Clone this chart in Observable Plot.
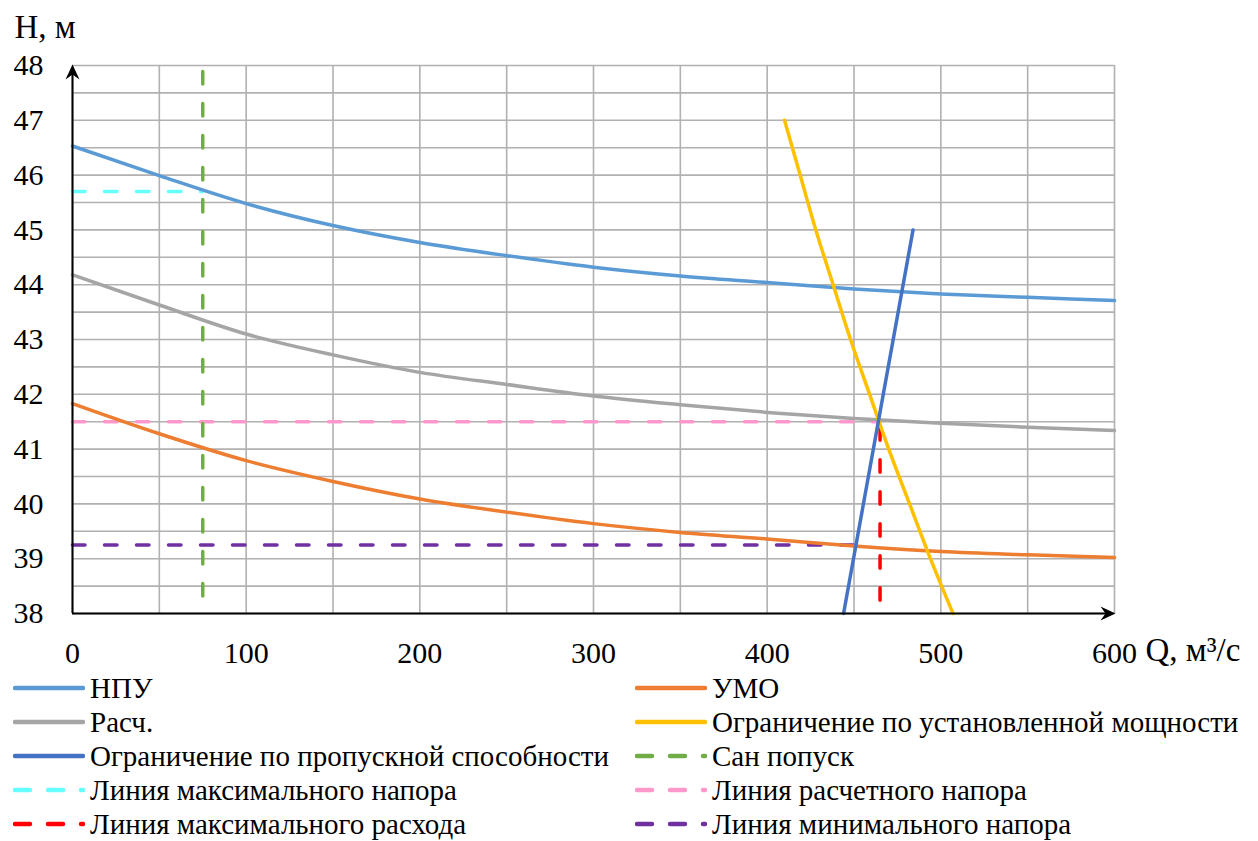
<!DOCTYPE html>
<html>
<head>
<meta charset="utf-8">
<script src="https://cdn.jsdelivr.net/npm/d3@7"></script>
<script src="https://cdn.jsdelivr.net/npm/@observablehq/plot@0.6"></script>
<style>
  html, body { margin: 0; padding: 0; background: #fff; }
  body { width: 1258px; height: 841px; overflow: hidden; font-family: "Liberation Serif", "Times New Roman", serif; }
  svg text { font-family: "Liberation Serif", "Times New Roman", serif !important; }
  #legend { position: relative; width: 1258px; }
  .row { position: absolute; height: 34px; display: flex; align-items: center; font-size: 29px; color: #000; white-space: nowrap; font-family: "Liberation Serif", "Times New Roman", serif; }
  .row svg { margin-right: 5px; }
</style>
</head>
<body>
<div id="chart"></div>
<div id="legend"></div>
<script>
// Расход Q, м³/с — общие узлы для кривых напора
const qNodes = [0, 50, 100, 150, 200, 250, 300, 350, 400, 450, 500, 550, 600];
// Напор при НПУ, м
const hNPU = [46.53, 45.99, 45.48, 45.08, 44.77, 44.53, 44.32, 44.16, 44.04, 43.92, 43.83, 43.77, 43.71];
// Расчётный напор, м
const hRasch = [44.18, 43.63, 43.1, 42.72, 42.4, 42.18, 41.97, 41.81, 41.67, 41.56, 41.47, 41.4, 41.34];
// Напор при УМО, м
const hUMO = [41.83, 41.28, 40.79, 40.41, 40.09, 39.85, 39.64, 39.48, 39.36, 39.23, 39.13, 39.07, 39.02];

// Ограничение по установленной мощности (Q, H)
const powerQ = [410, 419, 428, 438, 448, 459, 470, 482, 494, 507];
const powerH = [47, 46, 45, 44, 43, 42, 41, 40, 39, 38];

// Ограничение по пропускной способности (Q, H)
const capacityQ = [444, 484];
const capacityH = [38, 45];

// Характерные значения
const qSan = 75;        // санитарный попуск
const hMax = 45.7;      // максимальный напор
const hCalc = 41.5;     // расчётный напор
const qMax = 465;       // максимальный расход
const hMin = 39.25;     // минимальный напор
const qMinEnd = 452;    // конец линии минимального напора

// Оси
const xTicks = [0, 100, 200, 300, 400, 500, 600];
const yTicks = [38, 39, 40, 41, 42, 43, 44, 45, 46, 47, 48];
const xGrid = d3.range(0, 601, 50);
const yGrid = d3.range(38, 48.01, 0.5);

const colors = {
  npu: "#5b9bd5", umo: "#ed7d31", rasch: "#a5a5a5", power: "#ffc000",
  capacity: "#4472c4", san: "#70ad47", hmax: "#66ffff", hcalc: "#ff99cc",
  qmax: "#ff0000", hmin: "#7030a0"
};

const curve = (hs) => qNodes.map((q, i) => ({q, h: hs[i]}));
const pairs = (qs, hs) => qs.map((q, i) => ({q, h: hs[i]}));

const lw = 3.5;
const dash = "12.5,19.5";

// Наконечники стрелок осей
const arrowUp = { draw(ctx) { ctx.moveTo(0, -1); ctx.lineTo(-7, 14); ctx.lineTo(0, 9); ctx.lineTo(7, 14); ctx.closePath(); } };
const arrowRight = { draw(ctx) { ctx.moveTo(1, 0); ctx.lineTo(-14, -7); ctx.lineTo(-9, 0); ctx.lineTo(-14, 7); ctx.closePath(); } };

const plot = Plot.plot({
  width: 1258,
  height: 670,
  marginLeft: 72,
  marginRight: 144,
  marginTop: 65,
  marginBottom: 57,
  style: { fontFamily: "'Liberation Serif', 'Times New Roman', serif", fontSize: "30px", color: "#000", background: "#fff" },
  x: { domain: [0, 600] },
  y: { domain: [38, 48] },
  marks: [
    Plot.ruleX(xGrid, { stroke: "#b2b0b0", strokeWidth: 1.6 }),
    Plot.ruleY(yGrid, { stroke: "#b2b0b0", strokeWidth: 1.6 }),
    Plot.axisX(xTicks, { tickSize: 0, tickPadding: 28, fontSize: 30, label: null, tickFormat: d => String(d) }),
    Plot.axisY(yTicks, { tickSize: 0, tickPadding: 29, fontSize: 30, label: null, tickFormat: d => String(d) }),

    // Горизонтальные и вертикальные характерные линии
    Plot.lineY([{q: 0, h: hMin}, {q: qMinEnd, h: hMin}], { x: "q", y: "h", stroke: colors.hmin, strokeWidth: lw, strokeDasharray: dash, strokeLinecap: "round" }),
    Plot.lineY([{q: 0, h: hCalc}, {q: qMax, h: hCalc}], { x: "q", y: "h", stroke: colors.hcalc, strokeWidth: lw, strokeDasharray: dash, strokeLinecap: "round" }),
    Plot.lineY([{q: 0, h: hMax}, {q: qSan, h: hMax}], { x: "q", y: "h", stroke: colors.hmax, strokeWidth: lw, strokeDasharray: dash, strokeLinecap: "round" }),
    Plot.line([{q: qSan, h: 48}, {q: qSan, h: 38}], { x: "q", y: "h", stroke: colors.san, strokeWidth: lw, strokeDasharray: dash, strokeLinecap: "round", strokeDashoffset: -6 }),
    Plot.line([{q: qMax, h: hCalc}, {q: qMax, h: 38}], { x: "q", y: "h", stroke: colors.qmax, strokeWidth: lw, strokeDasharray: dash, strokeLinecap: "round", strokeDashoffset: -6 }),

    // Кривые напора
    Plot.line(curve(hNPU), { x: "q", y: "h", stroke: colors.npu, strokeWidth: lw, curve: "monotone-x" }),
    Plot.line(curve(hRasch), { x: "q", y: "h", stroke: colors.rasch, strokeWidth: lw, curve: "monotone-x" }),
    Plot.line(curve(hUMO), { x: "q", y: "h", stroke: colors.umo, strokeWidth: lw, curve: "monotone-x" }),

    // Ограничения
    Plot.line(pairs(powerQ, powerH), { x: "q", y: "h", stroke: colors.power, strokeWidth: lw, curve: "catmull-rom", strokeLinecap: "round" }),
    Plot.line(pairs(capacityQ, capacityH), { x: "q", y: "h", stroke: colors.capacity, strokeWidth: lw, strokeLinecap: "round" }),

    // Оси со стрелками
    Plot.ruleX([0], { y1: 38, y2: 47.85, stroke: "#000", strokeWidth: 2 }),
    Plot.ruleY([38], { x1: 0, x2: 597, stroke: "#000", strokeWidth: 2 }),
    Plot.dot([{q: 0, h: 48}], { x: "q", y: "h", symbol: arrowUp, fill: "#000", stroke: null, r: 5 }),
    Plot.dot([{q: 600, h: 38}], { x: "q", y: "h", symbol: arrowRight, fill: "#000", stroke: null, r: 5 }),

    // Подписи осей
    Plot.text(["H, м"], { frameAnchor: "top-left", dx: -58, dy: -38, textAnchor: "start", lineAnchor: "middle", fontSize: 33 }),
    Plot.text(["Q, м³/с"], { frameAnchor: "bottom-right", dx: 31, dy: 37, textAnchor: "start", lineAnchor: "middle", fontSize: 33 })
  ]
});
document.getElementById("chart").appendChild(plot);

// Легенда
const legendItems = [
  { label: "НПУ", color: colors.npu, dashed: false, col: 0 },
  { label: "УМО", color: colors.umo, dashed: false, col: 1 },
  { label: "Расч.", color: colors.rasch, dashed: false, col: 0 },
  { label: "Ограничение по установленной мощности", color: colors.power, dashed: false, col: 1 },
  { label: "Ограничение по пропускной способности", color: colors.capacity, dashed: false, col: 0 },
  { label: "Сан попуск", color: colors.san, dashed: true, col: 1 },
  { label: "Линия максимального напора", color: colors.hmax, dashed: true, col: 0 },
  { label: "Линия расчетного напора", color: colors.hcalc, dashed: true, col: 1 },
  { label: "Линия максимального расхода", color: colors.qmax, dashed: true, col: 0 },
  { label: "Линия минимального напора", color: colors.hmin, dashed: true, col: 1 }
];
const legend = document.getElementById("legend");
const colX = [13, 635];
legendItems.forEach((item, i) => {
  const row = Math.floor(i / 2);
  const div = document.createElement("div");
  div.className = "row";
  div.style.left = colX[item.col] + "px";
  div.style.top = (1 + row * 34) + "px";
  const sw = item.dashed
    ? `<line x1="2" y1="5" x2="70" y2="5" stroke="${item.color}" stroke-width="4.5" stroke-linecap="round" stroke-dasharray="15,18"/>`
    : `<line x1="2" y1="5" x2="70" y2="5" stroke="${item.color}" stroke-width="4.5" stroke-linecap="round"/>`;
  div.innerHTML = `<svg width="72" height="10">${sw}</svg><span>${item.label}</span>`;
  legend.appendChild(div);
});
</script>
</body>
</html>
